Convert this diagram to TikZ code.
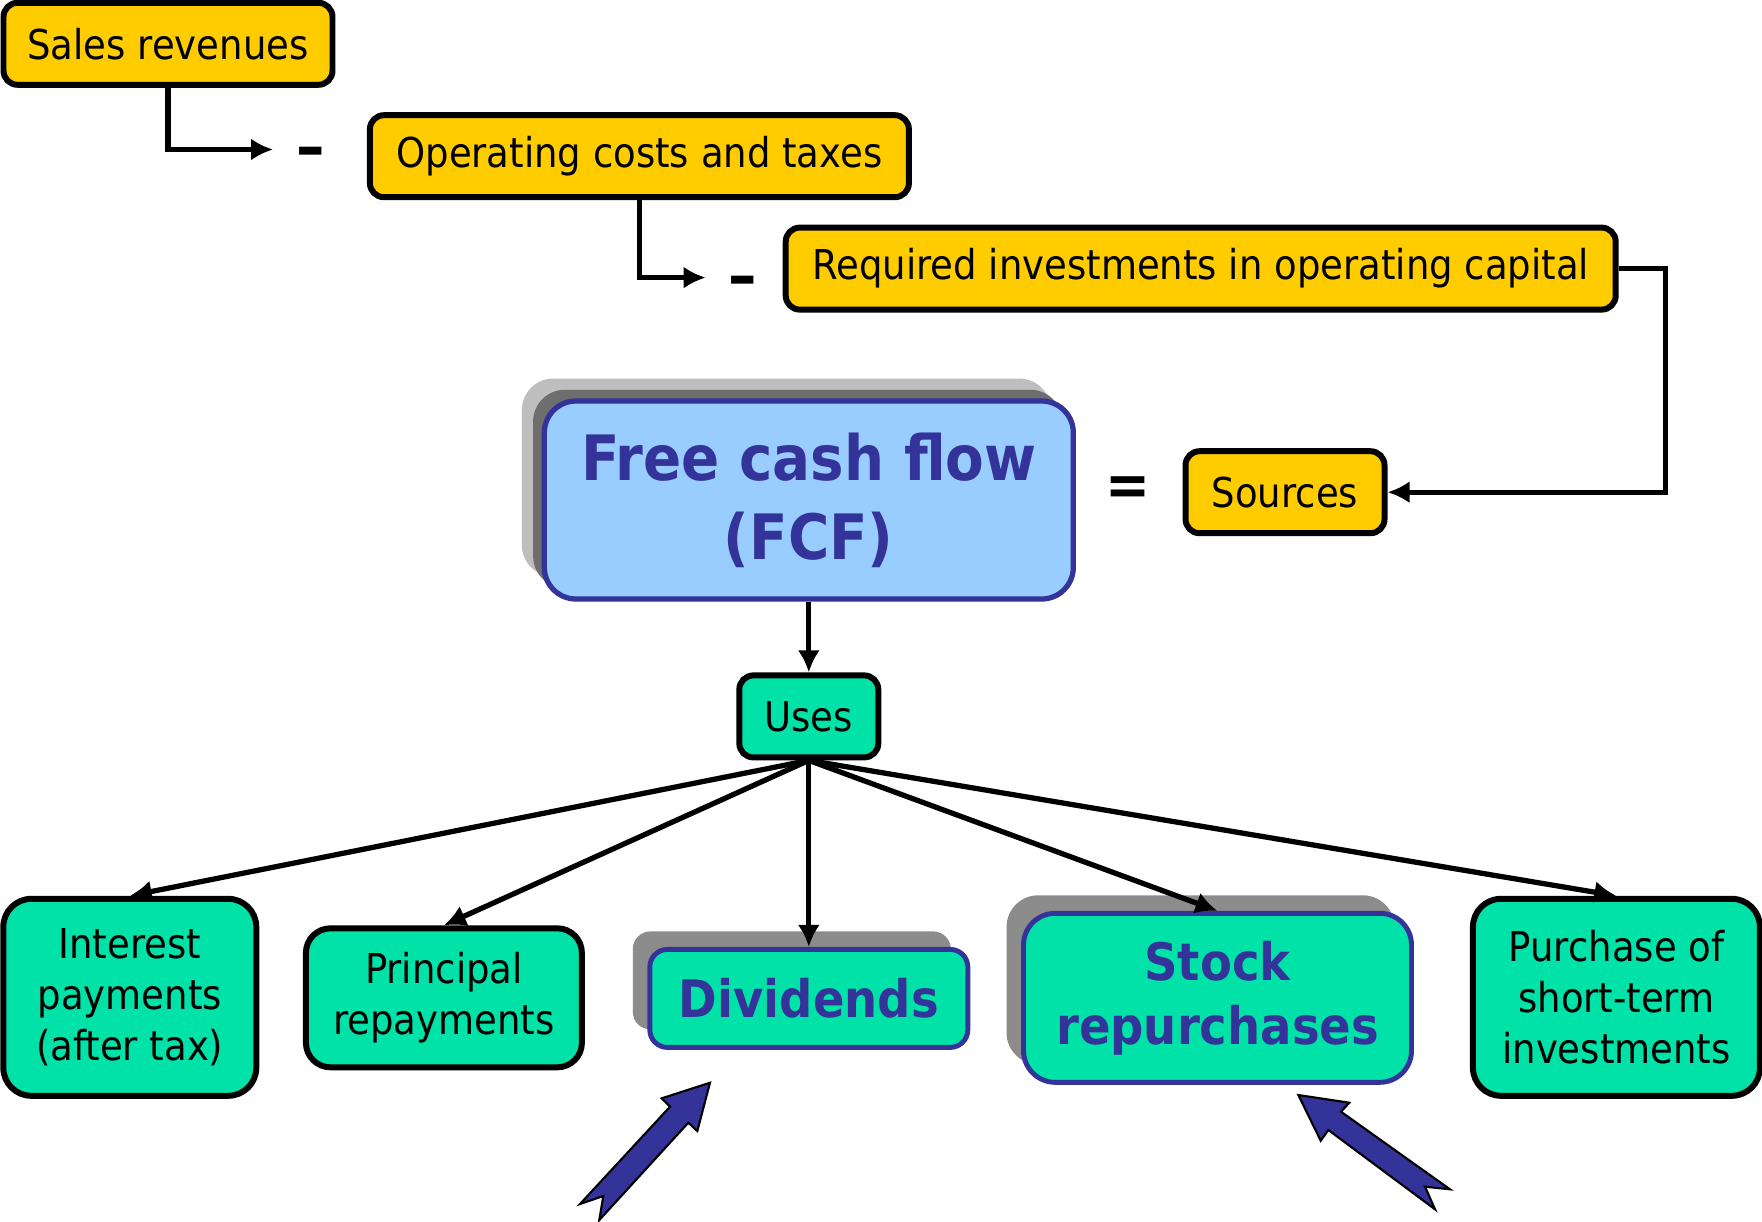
\documentclass[tikz,border=0pt]{standalone}
\usepackage{fontspec}
\setmainfont{DejaVu Sans}[FakeStretch=0.9]
\usetikzlibrary{arrows.meta,shadows}
\definecolor{fcfYellow}{HTML}{FFCC00}
\definecolor{fcfGreen}{HTML}{00E2A8}
\definecolor{fcfSky}{HTML}{99CCFF}
\definecolor{fcfNavy}{HTML}{333399}
\definecolor{fcfShade}{HTML}{8C8C8C}
\definecolor{fcfShadeDark}{HTML}{6E6E6E}
\definecolor{fcfShadeLight}{HTML}{BEBEBE}

\begin{document}
\begin{tikzpicture}[
		box/.style={draw, line width=1.7pt, rounded corners=4pt, fill=fcfYellow, inner sep=0pt, minimum height=0.82cm, font=\fontsize{11.7}{14.5}\selectfont},
		usebox/.style={draw, line width=1.7pt, rounded corners=8pt, fill=fcfGreen, inner sep=0pt, align=center, font=\fontsize{11.7}{14.5}\selectfont},
		keybox/.style={draw=fcfNavy, line width=1.4pt, rounded corners=5pt, fill=fcfGreen, inner sep=0pt, align=center, text=fcfNavy, font=\bfseries\fontsize{14.7}{18.2}\selectfont, general shadow={fill=fcfShade, shadow xshift=-0.17cm, shadow yshift=0.18cm}},
		fcfbox/.style={draw=fcfNavy, line width=1.5pt, rounded corners=9pt, fill=fcfSky, text=fcfNavy, align=center, inner sep=0pt, font=\bfseries\fontsize{17.8}{22.4}\selectfont, general shadow={fill=fcfShadeLight, shadow xshift=-0.225cm, shadow yshift=0.225cm}, general shadow={fill=fcfShadeDark, shadow xshift=-0.112cm, shadow yshift=0.112cm}},
		conn/.style={-{Latex[length=2.2mm, width=2.2mm]}, line width=1.5pt},
		bigarrow/.style={fill=fcfNavy, draw=black, line width=0.6pt, line join=miter},
		sign/.style={inner sep=0pt, font=\bfseries\fontsize{18}{18}\selectfont}
		]
		\useasboundingbox (0,0) rectangle (17.62,-12.21);
		
		% Sources side
		\node[box, minimum width=3.29cm] (salesRev) at (1.680,-0.438) {Sales revenues};
		\node[box, minimum width=5.39cm] (opCost) at (6.394,-1.562) {Operating costs and taxes};
		\node[box, minimum width=8.30cm] (reqInv) at (12.007,-2.686) {Required investments in operating capital};
		\node[sign] (minusOne) at (3.107,-1.58) {–};
		\node[sign] (minusTwo) at (7.428,-2.87) {–};
		\coordinate (minusOneIn) at (2.731,-1.495);
		\coordinate (minusTwoIn) at (7.057,-2.776);
		\draw[conn] (salesRev.south) |- (minusOneIn);
		\draw[conn] (opCost.south) |- (minusTwoIn);
		
		% FCF = Sources
		\node[fcfbox, minimum width=5.29cm, minimum height=1.98cm] (fcf) at (8.088,-5.000) {Free cash flow\\(FCF)};
		\node[sign, font=\bfseries\fontsize{17}{17}\selectfont] (eqSign) at (11.282,-4.911) {=};
		\node[box, minimum width=1.99cm] (sources) at (12.850,-4.922) {Sources};
		\draw[conn] (reqInv.east) -- ++(0.47,0) |- (sources.east);
		
		% Uses
		\node[usebox, rounded corners=4pt, minimum width=1.39cm, minimum height=0.82cm] (uses) at (8.088,-7.164) {Uses};
		\draw[conn] (fcf.south) -- (uses.north);
		
		\node[usebox, minimum width=2.53cm, minimum height=1.97cm] (useInterest) at (1.298,-9.973) {Interest\\payments\\(after tax)};
		\node[usebox, rounded corners=7pt, minimum width=2.76cm, minimum height=1.39cm] (usePrincipal) at (4.439,-9.978) {Principal\\repayments};
		\node[keybox, minimum width=3.18cm, minimum height=0.98cm] (useDividends) at (8.088,-9.984) {Dividends};
		\node[keybox, rounded corners=9pt, minimum width=3.88cm, minimum height=1.69cm] (useStock) at (12.175,-9.978) {Stock\\repurchases};
		\node[usebox, minimum width=2.87cm, minimum height=1.97cm] (usePurchase) at (16.164,-9.973) {Purchase of\\short-term\\investments};
		\draw[conn] (uses.south) -- (useInterest.north);
		\draw[conn] (uses.south) -- (usePrincipal.north);
		\draw[conn] (uses.south) -- (useDividends.north);
		\draw[conn] (uses.south) -- (useStock.north);
		\draw[conn] (uses.south) -- (usePurchase.north);
		
		% Highlight arrows
		\draw[bigarrow] (7.10,-10.827) -- (6.973,-11.31) -- (6.883,-11.227) -- (5.993,-12.20) -- (6.033,-11.96) -- (5.80,-12.04) -- (6.70,-11.067) -- (6.617,-10.983) -- cycle;
		\draw[bigarrow] (12.983,-10.95) -- (13.493,-11.027) -- (13.41,-11.117) -- (14.50,-11.893) -- (14.25,-11.867) -- (14.35,-12.093) -- (13.283,-11.30) -- (13.207,-11.407) -- cycle;
		
	\end{tikzpicture}
\end{document}
